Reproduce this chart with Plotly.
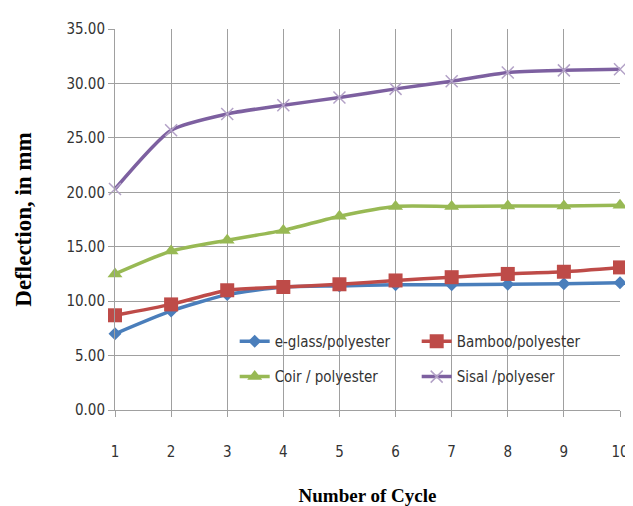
import plotly.graph_objects as go

cycles = [1, 2, 3, 4, 5, 6, 7, 8, 9, 10]
eglass = [7.0, 9.1, 10.6, 11.3, 11.4, 11.5, 11.5, 11.55, 11.6, 11.7]
bamboo = [8.7, 9.7, 11.0, 11.3, 11.55, 11.9, 12.2, 12.5, 12.7, 13.1]
coir = [12.5, 14.6, 15.6, 16.5, 17.8, 18.7, 18.7, 18.75, 18.75, 18.8]
sisal = [20.3, 25.7, 27.2, 28.0, 28.7, 29.5, 30.2, 31.0, 31.2, 31.3]

names = ["e-glass/polyester", "Bamboo/polyester", "Coir / polyester", "Sisal /polyeser"]
colors = ["#4A7EBB", "#BE4B48", "#98B954", "#7D60A0"]
symbols = ["diamond", "square", "triangle-up", "x-thin"]
sizes = [10, 14, 13, 12]
legends = ["legend", "legend", "legend2", "legend2"]

fig = go.Figure()
for ys, n, c, s, sz, lg in zip([eglass, bamboo, coir, sisal], names, colors, symbols, sizes, legends):
    mk = dict(symbol=s, size=sz, color=c)
    if s == "x-thin":
        mk = dict(symbol=s, size=sz, color="#B3A2C7", line=dict(width=1.5, color="#B3A2C7"))
    fig.add_trace(go.Scatter(
        x=cycles, y=ys, name=n, mode="lines+markers",
        line=dict(color=c, width=3.5, shape="spline", smoothing=0.6),
        marker=mk, legend=lg, cliponaxis=False,
    ))

narrow = "DejaVu Sans Condensed, Liberation Sans Narrow, sans-serif"
tickfont = dict(family=narrow, size=15, color="#333333")
legfont = dict(family=narrow, size=15, color="#333333")
serif = "Liberation Serif, Times New Roman, serif"

fig.update_layout(
    width=633, height=506,
    margin=dict(l=107, r=15, t=18, b=91),
    paper_bgcolor="white", plot_bgcolor="white",
    xaxis=dict(
        range=[1, 10], tickvals=cycles, ticktext=[str(c) for c in cycles],
        showgrid=True, gridcolor="#A0A0A0", gridwidth=1,
        showline=True, linecolor="#A0A0A0", linewidth=1, mirror=False,
        ticks="outside", ticklen=6, tickcolor="#A0A0A0",
        tickfont=tickfont, ticklabelstandoff=22, zeroline=False,
        title=dict(text="Number of Cycle", font=dict(family=serif, size=19, color="black", weight="bold"), standoff=28),
    ),
    yaxis=dict(
        range=[0, 35], tickvals=[0, 5, 10, 15, 20, 25, 30, 35],
        ticktext=["0.00", "5.00", "10.00", "15.00", "20.00", "25.00", "30.00", "35.00"],
        showgrid=True, gridcolor="#A0A0A0", gridwidth=1,
        showline=True, linecolor="#A0A0A0", linewidth=1,
        ticks="outside", ticklen=6, tickcolor="#A0A0A0",
        tickfont=tickfont, zeroline=False,
        title=dict(text="Deflection, in mm", font=dict(family=serif, size=23, color="black", weight="bold"), standoff=28),
    ),
    legend=dict(orientation="h", x=0.237, y=0.18, xanchor="left", yanchor="middle",
                entrywidth=137, entrywidthmode="pixels", font=legfont, bgcolor="rgba(0,0,0,0)",
                itemwidth=30),
    legend2=dict(orientation="h", x=0.237, y=0.087, xanchor="left", yanchor="middle",
                 entrywidth=137, entrywidthmode="pixels", font=legfont, bgcolor="rgba(0,0,0,0)",
                 itemwidth=30),
)

fig.write_html("out.html")
